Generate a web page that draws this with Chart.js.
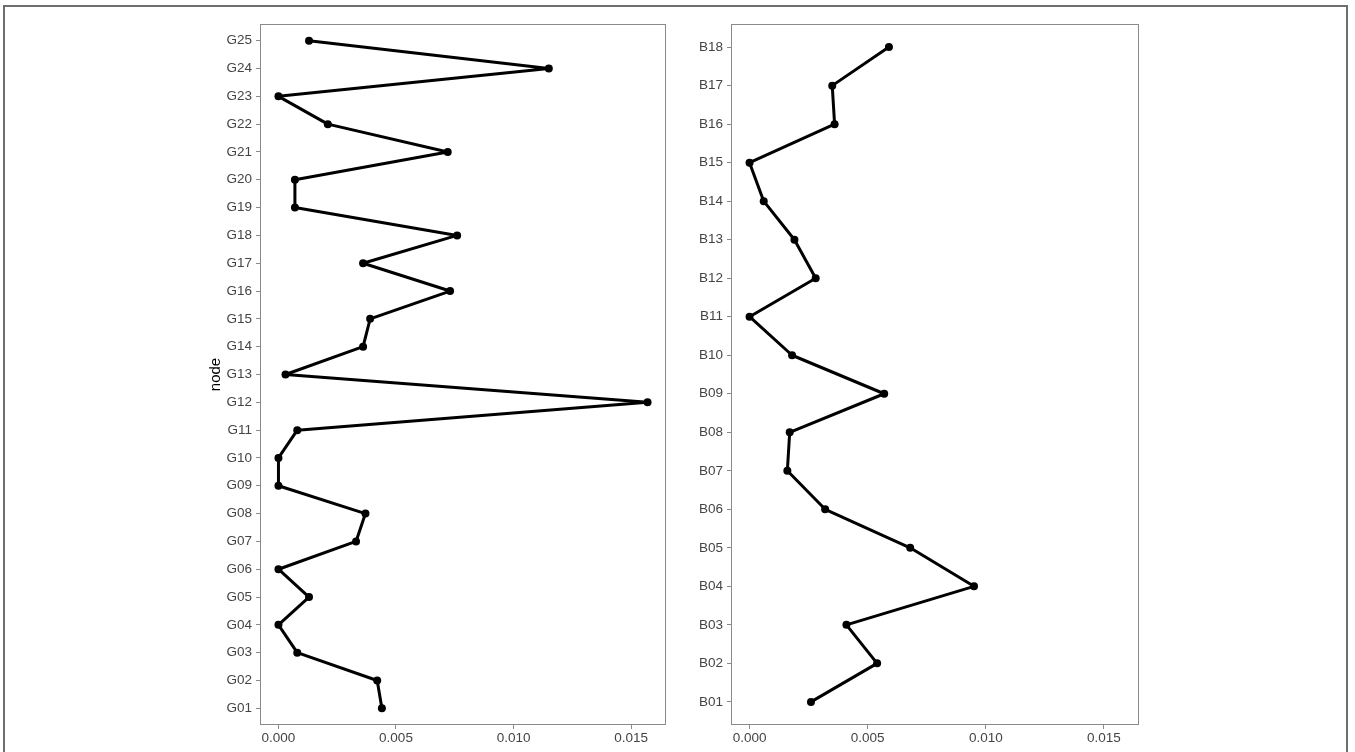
<!DOCTYPE html>
<html>
<head>
<meta charset="utf-8">
<script src="https://cdn.jsdelivr.net/npm/chart.js@4.4.1/dist/chart.umd.min.js"></script>
<style>
    html, body { margin: 0; padding: 0; background: #fff; overflow: hidden; }
    body { width: 1355px; height: 752px; position: relative; }
    #frame { position: absolute; left: 3px; top: 5px; width: 1345px; height: 800px; border: 2px solid #6e6e6e; box-sizing: border-box; }
    #leftChart { position: absolute; left: 204px; top: 0; }
    #rightChart { position: absolute; left: 690px; top: 0; }
</style>
</head>
<body>
<div id="frame"></div>
<canvas id="leftChart" width="482" height="752"></canvas>
<canvas id="rightChart" width="469" height="752"></canvas>
<script>
// values (bottom row first)
const gNodes = ['G01', 'G02', 'G03', 'G04', 'G05', 'G06', 'G07', 'G08', 'G09', 'G10', 'G11', 'G12', 'G13',
    'G14', 'G15', 'G16', 'G17', 'G18', 'G19', 'G20', 'G21', 'G22', 'G23', 'G24', 'G25'];
const gValues = [0.0044, 0.0042, 0.0008, 0.0000, 0.0013, 0.0000, 0.0033, 0.0037, 0.0000, 0.0000, 0.0008, 0.0157, 0.0003,
    0.0036, 0.0039, 0.0073, 0.0036, 0.0076, 0.0007, 0.0007, 0.0072, 0.0021, 0.0000, 0.0115, 0.0013];

const bNodes = ['B01', 'B02', 'B03', 'B04', 'B05', 'B06', 'B07', 'B08', 'B09', 'B10', 'B11', 'B12', 'B13',
    'B14', 'B15', 'B16', 'B17', 'B18'];
const bValues = [0.0026, 0.0054, 0.0041, 0.0095, 0.0068, 0.0032, 0.0016, 0.0017, 0.0057, 0.0018, 0.0000, 0.0028, 0.0019,
    0.0006, 0.0000, 0.0036, 0.0035, 0.0059];

const xTicks = [0, 0.005, 0.010, 0.015];
const xMax = 0.0157; // shared x scale, ggplot-style 5% expansion

const tickGrey = '#444444';
const lineGrey = '#8a8a8a';
const fontFamily = '"Liberation Sans", Arial, sans-serif';

// full box round the panel
const panelBorder = {
    id: 'panelBorder',
    beforeDatasetsDraw(chart) {
        const a = chart.chartArea;
        const ctx = chart.ctx;
        ctx.save();
        ctx.strokeStyle = lineGrey;
        ctx.lineWidth = 1;
        ctx.strokeRect(a.left + 0.5, a.top + 0.5, a.right - a.left - 1, a.bottom - a.top - 1);
        ctx.restore();
    }
};

function buildPanel(canvasId, nodes, values, axisWidth, showTitle) {
    const ctx = document.getElementById(canvasId).getContext('2d');
    const points = values.map((v, i) => ({ x: v, y: i + 1 }));

    return new Chart(ctx, {
        type: 'line',
        data: {
            datasets: [{
                data: points,
                borderColor: '#000',
                backgroundColor: '#000',
                borderWidth: 3,
                borderJoinStyle: 'round',
                borderCapStyle: 'round',
                pointRadius: 4,
                pointHoverRadius: 4,
                pointBorderWidth: 0,
                tension: 0,
                fill: false
            }]
        },
        options: {
            responsive: false,
            animation: false,
            layout: { padding: { top: 24, right: 20, bottom: 0, left: 0 } },
            plugins: { legend: { display: false }, tooltip: { enabled: false } },
            scales: {
                x: {
                    type: 'linear',
                    min: -0.05 * xMax,
                    max: 1.05 * xMax,
                    afterBuildTicks: axis => { axis.ticks = xTicks.map(v => ({ value: v })); },
                    afterFit: axis => { axis.height = 27; },
                    ticks: {
                        color: tickGrey, padding: 1, maxRotation: 0,
                        font: { family: fontFamily, size: 13.5 },
                        callback: v => v.toFixed(3)
                    },
                    grid: { drawOnChartArea: false, drawTicks: true, tickLength: 4, color: lineGrey },
                    border: { display: false }
                },
                y: {
                    type: 'linear',
                    min: 0.4,
                    max: nodes.length + 0.6,
                    afterBuildTicks: axis => { axis.ticks = nodes.map((n, i) => ({ value: i + 1 })); },
                    afterFit: axis => { axis.width = axisWidth; },
                    ticks: {
                        color: tickGrey, padding: 4,
                        font: { family: fontFamily, size: 13.5 },
                        callback: v => nodes[Math.round(v) - 1]
                    },
                    title: {
                        display: showTitle, text: 'node', color: '#000',
                        font: { family: fontFamily, size: 15 },
                        padding: { top: 3, bottom: 0 }
                    },
                    grid: { drawOnChartArea: false, drawTicks: true, tickLength: 4, color: lineGrey },
                    border: { display: false }
                }
            }
        },
        plugins: [panelBorder]
    });
}

buildPanel('leftChart', gNodes, gValues, 56, true);
buildPanel('rightChart', bNodes, bValues, 41, false);
</script>
</body>
</html>
